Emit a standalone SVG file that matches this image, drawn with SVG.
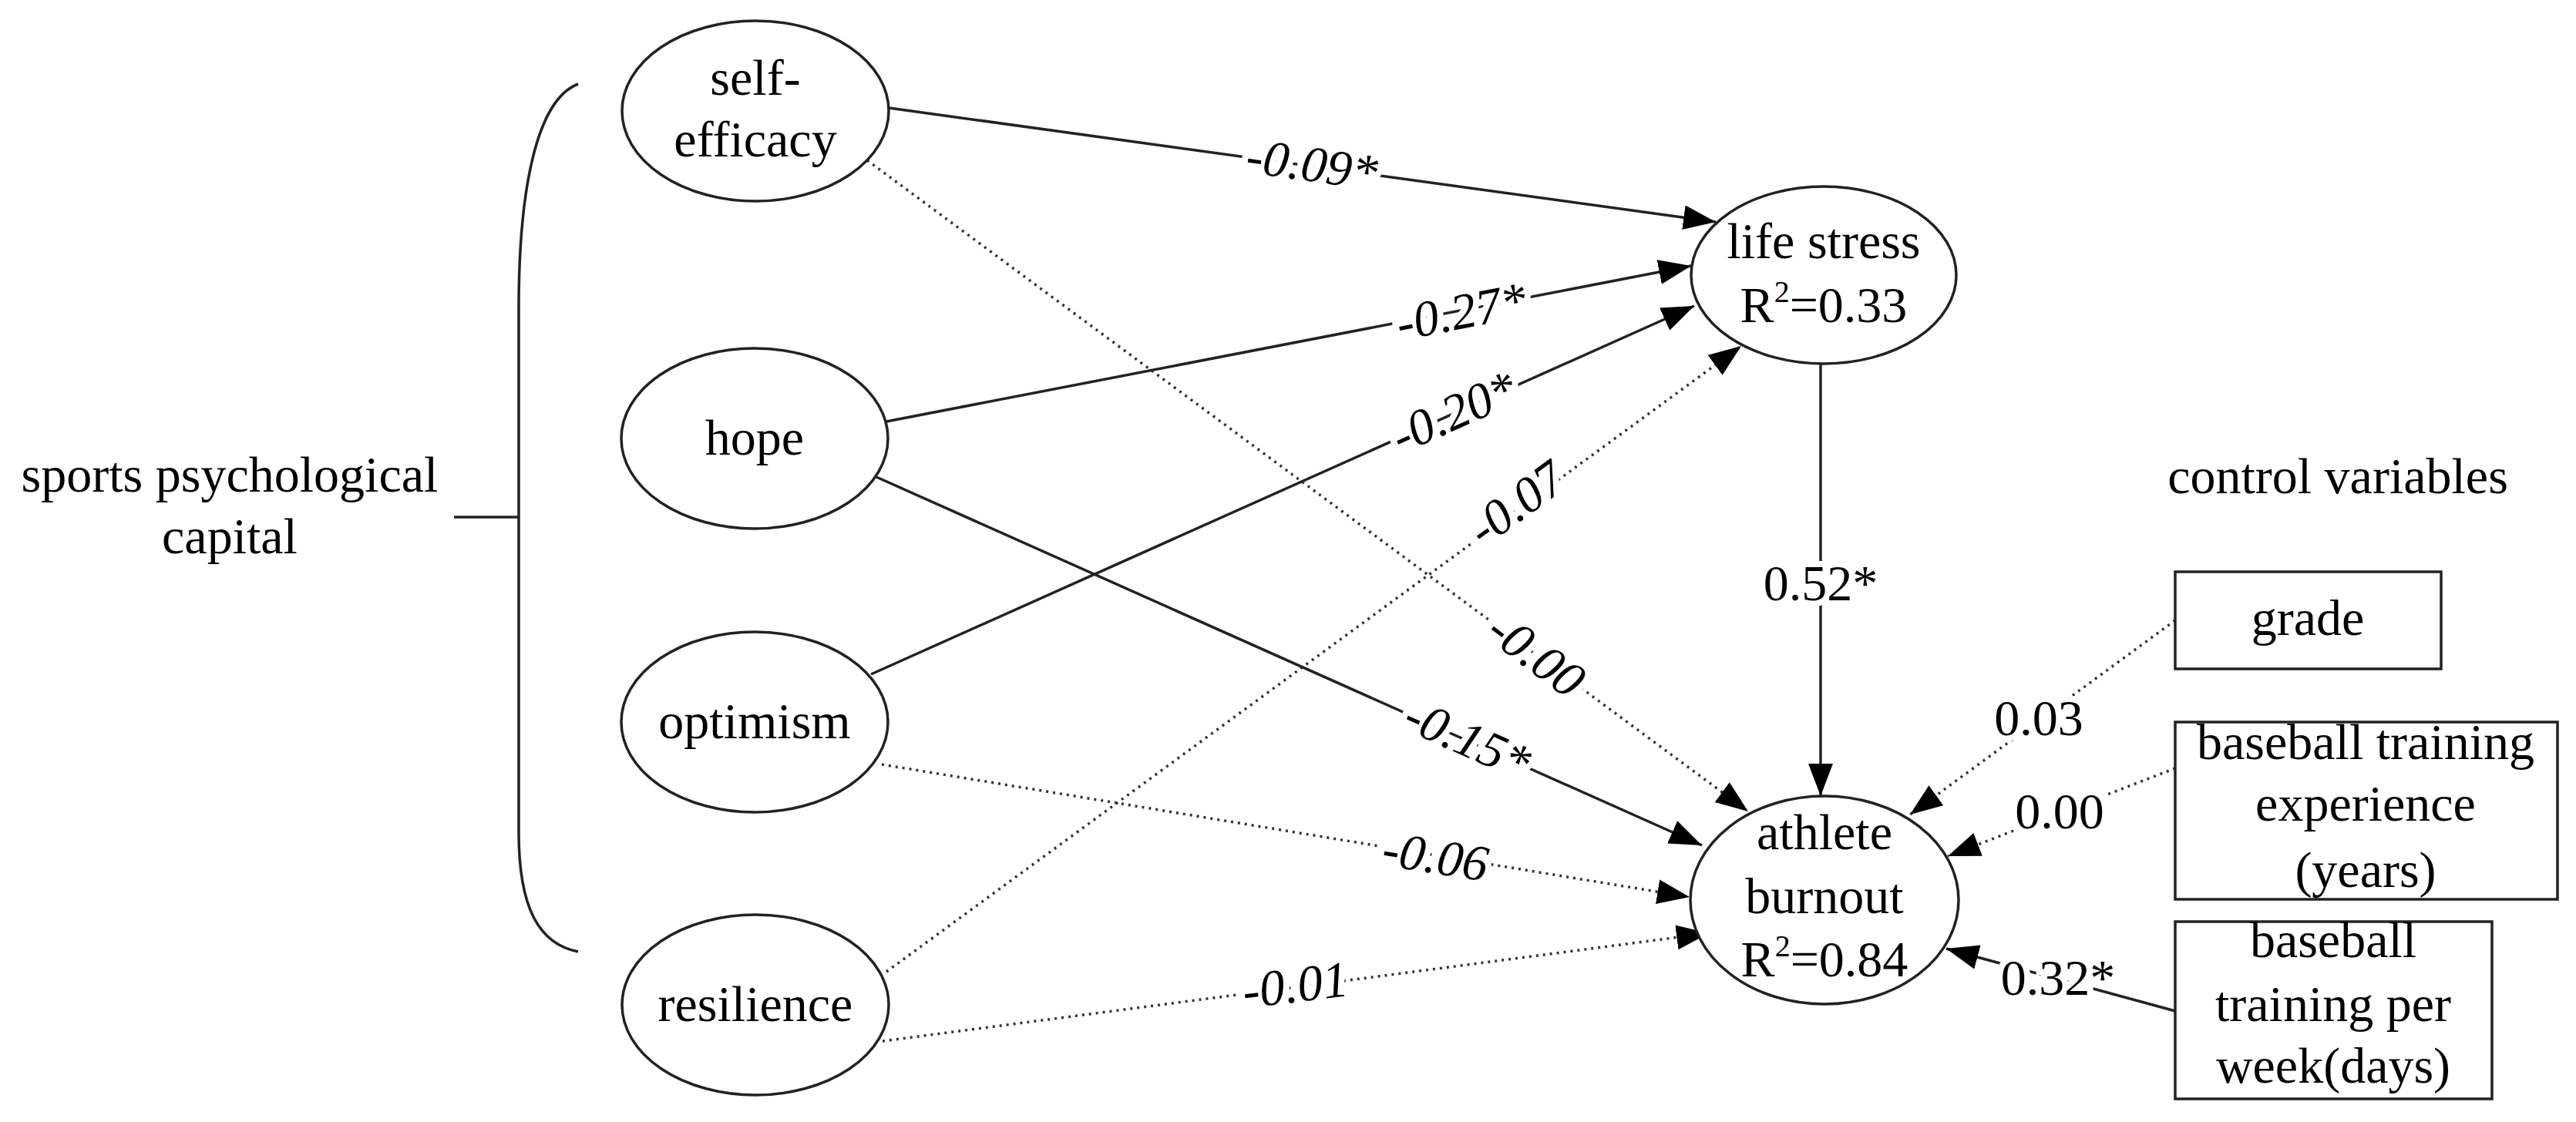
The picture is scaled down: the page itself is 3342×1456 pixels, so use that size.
<svg xmlns="http://www.w3.org/2000/svg" width="3342" height="1456" viewBox="0 0 3342 1456">
<style>
text{font-family:"Liberation Serif","Times New Roman",serif;font-size:66px;fill:#000;text-anchor:middle}
.n{fill:#fff;stroke:#222;stroke-width:3.5}
.e{fill:none;stroke:#222;stroke-width:3.5}
.d{fill:none;stroke:#333;stroke-width:3.5;stroke-dasharray:3 6}
.lb{paint-order:stroke;stroke:#fff;stroke-width:16;font-style:italic}
.lu{paint-order:stroke;stroke:#fff;stroke-width:16}
.sup{font-size:40px}
</style>
<defs>
<marker id="ar" markerUnits="userSpaceOnUse" markerWidth="44" markerHeight="34" refX="42" refY="16" orient="auto">
<path d="M0,0 L42,16 L0,32 z" fill="#000"/>
</marker>
</defs>
<g id="connectors">
<line class="e" x1="1153" y1="140" x2="2226" y2="288" marker-end="url(#ar)"/>
<line class="e" x1="1150" y1="547" x2="2194" y2="345" marker-end="url(#ar)"/>
<line class="e" x1="1130" y1="875" x2="2198" y2="397" marker-end="url(#ar)"/>
<line class="d" x1="1150" y1="1261" x2="2259" y2="449" marker-end="url(#ar)"/>
<line class="d" x1="1125" y1="208" x2="2268" y2="1053" marker-end="url(#ar)"/>
<line class="e" x1="1137" y1="619" x2="2208" y2="1097" marker-end="url(#ar)"/>
<line class="d" x1="1144" y1="992" x2="2192" y2="1164" marker-end="url(#ar)"/>
<line class="d" x1="1145" y1="1351" x2="2217" y2="1211" marker-end="url(#ar)"/>
<line class="e" x1="2362" y1="472" x2="2362" y2="1033" marker-end="url(#ar)"/>
<line class="d" x1="2822" y1="805" x2="2478" y2="1057" marker-end="url(#ar)"/>
<line class="d" x1="2822" y1="997" x2="2527" y2="1111" marker-end="url(#ar)"/>
<line class="e" x1="2822" y1="1312" x2="2525" y2="1231" marker-end="url(#ar)"/>
<text class="lb" transform="translate(1699,235) rotate(8)">-0.09*</text>
<text class="lb" transform="translate(1900,426) rotate(-11)">-0.27*</text>
<text class="lb" transform="translate(1895,555) rotate(-24)">-0.20*</text>
<text class="lb" transform="translate(1980,671) rotate(-36)">-0.07</text>
<text class="lb" transform="translate(1980,867) rotate(37)">-0.00</text>
<text class="lb" transform="translate(1895,979) rotate(24)">-0.15*</text>
<text class="lb" transform="translate(1859,1133) rotate(9)">-0.06</text>
<text class="lb" transform="translate(1683,1300) rotate(-7)">-0.01</text>
<text class="lu" x="2362" y="779">0.52*</text>
<text class="lu" x="2645" y="954">0.03</text>
<text class="lu" x="2672" y="1075">0.00</text>
<text class="lu" x="2670" y="1291">0.32*</text>
</g>
<g id="bracket">
<path class="e" d="M750,109 C695,130 673,250 673,400 L673,1080 C673,1180 700,1225 750,1235"/>
<line class="e" x1="589" y1="671" x2="673" y2="671"/>
<text x="298" y="638">sports psychological</text>
<text x="298" y="718">capital</text>
</g>
<g id="self-efficacy"><ellipse class="n" cx="980" cy="144" rx="173" ry="117"/><text x="980" y="123">self-</text><text x="980" y="203">efficacy</text></g>
<g id="hope"><ellipse class="n" cx="979" cy="569" rx="173" ry="117"/><text x="979" y="590">hope</text></g>
<g id="optimism"><ellipse class="n" cx="979" cy="937" rx="173" ry="117"/><text x="979" y="958">optimism</text></g>
<g id="resilience"><ellipse class="n" cx="980" cy="1304" rx="173" ry="117"/><text x="980" y="1325">resilience</text></g>
<g id="life-stress"><ellipse class="n" cx="2366" cy="357" rx="172" ry="115"/><text x="2366" y="335">life stress</text><text x="2366" y="418">R<tspan class="sup" dy="-26">2</tspan><tspan dy="26">=0.33</tspan></text></g>
<g id="athlete-burnout"><ellipse class="n" cx="2367" cy="1168" rx="174" ry="135"/><text x="2367" y="1102">athlete</text><text x="2367" y="1185">burnout</text><text x="2367" y="1267">R<tspan class="sup" dy="-26">2</tspan><tspan dy="26">=0.84</tspan></text></g>
<g id="control-label"><text x="3033" y="640">control variables</text></g>
<g id="grade"><rect class="n" x="2822" y="742" width="345" height="126"/><text x="2994" y="824">grade</text></g>
<g id="experience"><rect class="n" x="2822" y="937" width="496" height="230"/><text x="3069" y="985">baseball training</text><text x="3069" y="1065">experience</text><text x="3069" y="1151">(years)</text></g>
<g id="per-week"><rect class="n" x="2822" y="1196" width="411" height="230"/><text x="3027" y="1242">baseball</text><text x="3027" y="1325">training per</text><text x="3027" y="1405">week(days)</text></g>
</svg>
